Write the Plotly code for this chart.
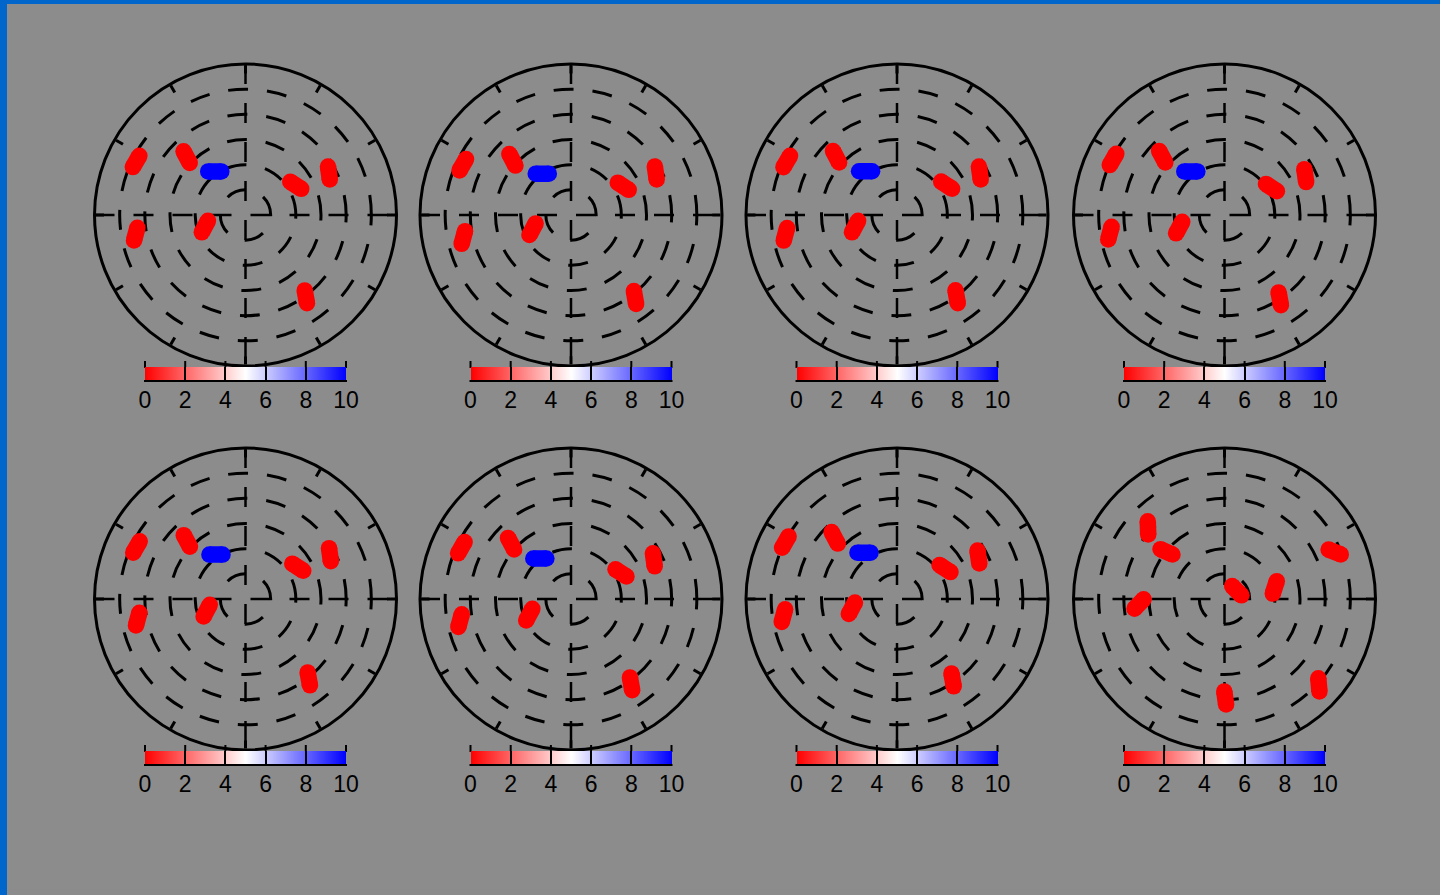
import math
import plotly.graph_objects as go
from plotly.colors import sample_colorscale

W, H = 1440, 895

# ---------------- data ----------------
# per panel: radial position, angle (deg, CCW from east), stroke orientation (deg), value (0..10)
radius = [
    [4.84, 3.28, 2.12, 2.32, 3.71, 4.43, 1.68, 4.04],
    [4.74, 3.20, 2.00, 2.37, 3.76, 4.37, 1.63, 4.15],
    [4.87, 3.35, 2.14, 2.30, 3.69, 4.50, 1.73, 4.02],
    [4.95, 3.39, 2.19, 2.16, 3.57, 4.61, 1.87, 3.99],
    [4.80, 3.28, 2.12, 2.43, 3.79, 4.36, 1.61, 4.05],
    [4.81, 3.24, 2.03, 2.24, 3.64, 4.49, 1.77, 4.13],
    [4.98, 3.47, 2.26, 2.26, 3.64, 4.56, 1.83, 3.90],
    [4.15, 2.97, 3.40, 0.59, 2.05, 4.76, 3.93, 5.07],
]
theta = [
    [153.9, 135.5, 125.2, 30.6, 26.7, 189.9, 195.9, 306.4],
    [155.1, 136.7, 124.8, 28.8, 26.4, 191.8, 200.3, 307.8],
    [154.1, 136.3, 125.7, 31.0, 26.9, 189.8, 195.4, 306.1],
    [153.5, 136.9, 127.7, 30.3, 26.0, 189.0, 195.5, 303.4],
    [154.5, 135.3, 123.6, 31.3, 27.7, 190.6, 196.7, 308.4],
    [154.9, 137.3, 127.6, 27.6, 25.3, 191.0, 200.5, 305.3],
    [153.0, 135.5, 125.5, 32.4, 27.3, 188.3, 191.6, 304.5],
    [137.1, 140.9, 183.3, 34.0, 13.0, 23.1, 270.4, 317.7],
]
orientation = [
    [60, -62, 0, -33, -82, 75, 62, -80],
    [60, -62, 0, -33, -82, 75, 62, -80],
    [60, -62, 0, -33, -82, 75, 62, -80],
    [60, -62, 0, -33, -82, 75, 62, -80],
    [60, -62, 0, -33, -82, 75, 62, -80],
    [60, -62, 0, -33, -82, 75, 62, -80],
    [60, -62, 0, -33, -82, 75, 62, -80],
    [-88, -24, 46, -45, 72, -22, -82, -85],
]
value = [
    [0, 0, 10, 0, 0, 0, 0, 0],
    [0, 0, 10, 0, 0, 0, 0, 0],
    [0, 0, 10, 0, 0, 0, 0, 0],
    [0, 0, 10, 0, 0, 0, 0, 0],
    [0, 0, 10, 0, 0, 0, 0, 0],
    [0, 0, 10, 0, 0, 0, 0, 0],
    [0, 0, 10, 0, 0, 0, 0, 0],
    [0, 0, 0, 0, 0, 0, 0, 0],
]
cbar_ticks = [0, 2, 4, 6, 8, 10]
r_max = 6
r_grid = [1, 2, 3, 4, 5]

# ---------------- style / layout ----------------
BG = "rgb(140,140,140)"
BORDER = "rgb(0,102,204)"
CSCALE = [[0, "rgb(255,0,0)"], [0.5, "rgb(255,255,255)"], [1, "rgb(0,0,255)"]]
CMIN, CMAX = 0, 10
R_PX = 151
HALF_LEN = 0.26      # half length of each stroke, in radial units
STROKE = 16.5
DASH = "20px,19px"
GRID_W = 2.5
FONT = "Liberation Sans, Arial, sans-serif"

col_cx = [245.5, 571, 897, 1224.5]
row_cy = [215, 599]
CB_LEN = 201
CB_THICK = 13

fig = go.Figure()


def stroke_ends(r, th, ang, half):
    x = r * math.cos(math.radians(th))
    y = r * math.sin(math.radians(th))
    dx = half * math.cos(math.radians(ang))
    dy = half * math.sin(math.radians(ang))
    pts = [(x - dx, y - dy), (x + dx, y + dy)]
    rr = [math.hypot(px, py) for px, py in pts]
    tt = [math.degrees(math.atan2(py, px)) for px, py in pts]
    return rr, tt


for p in range(8):
    row, col = divmod(p, 4)
    cx, cy = col_cx[col], row_cy[row]
    name = "polar" if p == 0 else f"polar{p+1}"
    sub = name
    bar_top = cy + 152
    bar_bot = bar_top + CB_THICK

    fig.layout[name] = dict(
        domain=dict(x=[(cx - R_PX) / W, (cx + R_PX) / W],
                    y=[(H - cy - R_PX) / H, (H - cy + R_PX) / H]),
        bgcolor="rgba(0,0,0,0)",
        radialaxis=dict(range=[0, r_max], tickvals=r_grid, showticklabels=False,
                        ticks="", showline=False, showgrid=True,
                        gridcolor="black", gridwidth=GRID_W, griddash=DASH),
        angularaxis=dict(rotation=0, direction="counterclockwise", dtick=30,
                         ticks="inside", ticklen=8, tickwidth=2.5, tickcolor="black",
                         showticklabels=False, showgrid=False, showline=True,
                         linecolor="black", linewidth=3),
    )

    # dashed radial lines (through center)
    for a, b in [(90, 270), (180, 0)]:
        fig.add_trace(go.Scatterpolar(
            r=[r_max, r_max], theta=[a, b], mode="lines", subplot=sub,
            line=dict(color="black", width=GRID_W, dash=DASH),
            showlegend=False, hoverinfo="skip"))

    for i in range(len(radius[p])):
        rr, tt = stroke_ends(radius[p][i], theta[p][i], orientation[p][i], HALF_LEN)
        v = value[p][i]
        col_str = sample_colorscale(CSCALE, [(v - CMIN) / (CMAX - CMIN)])[0]
        marker = dict(size=STROKE, color=[v, v], colorscale=CSCALE, cmin=CMIN, cmax=CMAX,
                      line=dict(width=0))
        if i == 0:
            marker["showscale"] = True
            marker["colorbar"] = dict(
                orientation="h", x=cx / W, xanchor="center",
                y=1 - bar_top / H, yanchor="top",
                len=CB_LEN, lenmode="pixels", thickness=CB_THICK, thicknessmode="pixels",
                xpad=0, ypad=0, outlinewidth=0,
                tickvals=cbar_ticks, ticks="inside", ticklen=CB_THICK, tickwidth=2,
                tickcolor="black",
                tickfont=dict(family=FONT, size=23, color="black"),
            )
        fig.add_trace(go.Scatterpolar(
            r=rr, theta=tt, mode="lines+markers", subplot=sub,
            line=dict(color=col_str, width=STROKE),
            marker=marker, showlegend=False, hoverinfo="skip"))

    # colorbar tick stubs poking above the bar, and bottom edge
    x0 = cx - CB_LEN / 2
    for t in cbar_ticks:
        xt = x0 + (t - CMIN) / (CMAX - CMIN) * CB_LEN
        fig.add_shape(type="line", xref="paper", yref="paper",
                      x0=xt / W, x1=xt / W,
                      y0=1 - (bar_top - 6) / H, y1=1 - (bar_top + 1) / H,
                      line=dict(color="black", width=2), layer="above")
    fig.add_shape(type="line", xref="paper", yref="paper",
                  x0=(x0 - 1) / W, x1=(x0 + CB_LEN + 1) / W,
                  y0=1 - (bar_bot + 1) / H, y1=1 - (bar_bot + 1) / H,
                  line=dict(color="black", width=2), layer="above")

# blue frame on left and top
fig.add_shape(type="rect", xref="paper", yref="paper", x0=0, x1=7 / W, y0=0, y1=1,
              fillcolor=BORDER, line=dict(width=0), layer="above")
fig.add_shape(type="rect", xref="paper", yref="paper", x0=0, x1=1, y0=1 - 4 / H, y1=1,
              fillcolor=BORDER, line=dict(width=0), layer="above")

fig.update_layout(
    width=W, height=H,
    margin=dict(l=0, r=0, t=0, b=0),
    paper_bgcolor=BG, plot_bgcolor=BG,
    showlegend=False,
    font=dict(family=FONT, color="black"),
)

fig.write_html(
    "out.html",
    config={"displayModeBar": False},
    post_script="document.body.style.margin='0';document.body.style.overflow='hidden';",
)
